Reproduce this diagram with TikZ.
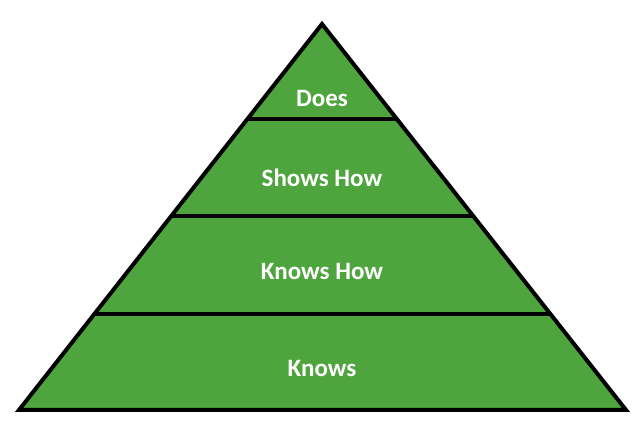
\documentclass[tikz,border=0pt]{standalone}
\usepackage{fontspec}
\setmainfont{Carlito}
\usepackage{xcolor}
\usetikzlibrary{calc}
\definecolor{pyramidgreen}{RGB}{78,165,62}
\tikzset{
    tier/.style={text=white, font=\bfseries\fontsize{25}{30}\selectfont},
    edge line/.style={line width=4pt, black}
}

\begin{document}
\begin{tikzpicture}[x=1pt, y=-1pt]
                        \useasboundingbox (0, 0) rectangle (640, 427);
                        \coordinate (apex) at (322, 24);
                        \coordinate (left) at (19, 410);
                        \coordinate (right) at (626, 410);
                        \draw[edge line, fill=pyramidgreen] (apex) -- (left) -- (right) -- cycle;
                        \foreach \t/\n in {0.246/does, 0.497/shows, 0.751/knowshow}{
                            \coordinate (\n-l) at ($(apex)!\t!(left)$);
                            \coordinate (\n-r) at ($(apex)!\t!(right)$);
                            \draw[edge line] (\n-l) -- (\n-r);
                        }
                        \node[tier] (does) at (322, 98) {Does};
                        \node[tier] (showshow) at (322, 178) {Shows How};
                        \node[tier] (knowshowtxt) at (322, 271) {Knows How};
                        \node[tier] (knows) at (322, 368) {Knows};
                    \end{tikzpicture}
\end{document}
